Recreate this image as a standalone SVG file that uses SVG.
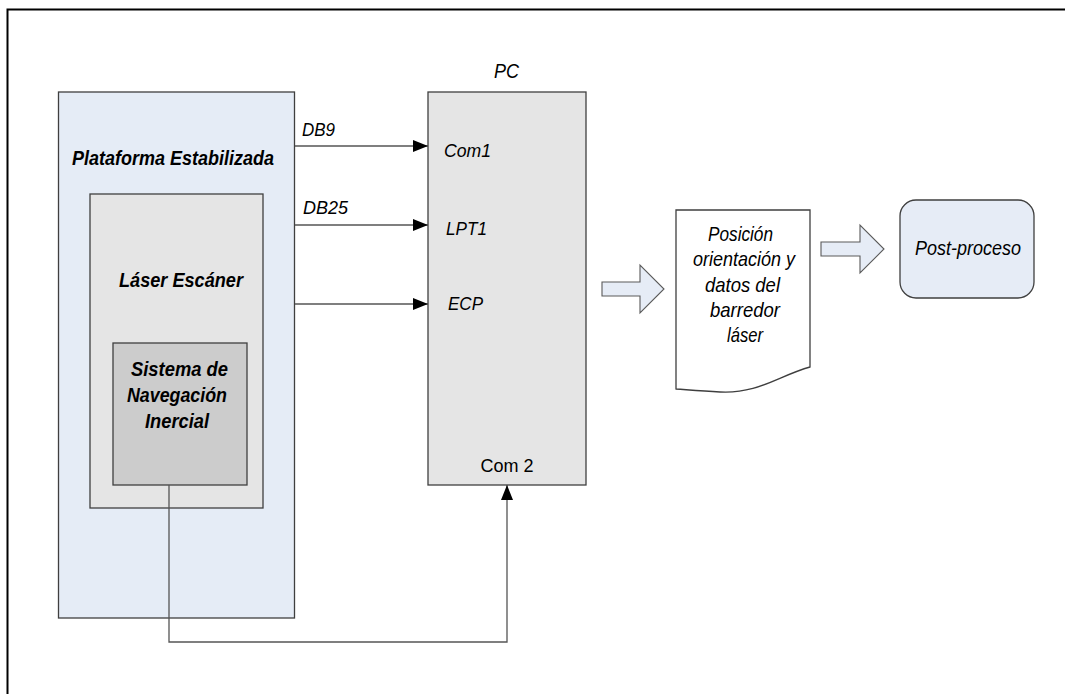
<svg xmlns="http://www.w3.org/2000/svg" width="1065" height="694" viewBox="0 0 1065 694">
  <style>
    .box { stroke: #3f3f3f; stroke-width: 1.3; }
    .lbl { font-family: "Liberation Sans", Arial, sans-serif; font-size: 21px; font-style: italic; fill: #000; }
    .bold { font-weight: bold; }
    .port { font-family: "Liberation Sans", Arial, sans-serif; font-size: 19px; font-style: italic; fill: #000; }
    .plain { font-family: "Liberation Sans", Arial, sans-serif; font-size: 18px; fill: #000; }
    .wire { fill: none; stroke: #555; stroke-width: 1.3; }
    .fat { fill: #e6ecf6; stroke: #5a5a5a; stroke-width: 1.1; }
  </style>
  <defs>
    <marker id="tip" markerWidth="15" markerHeight="12" refX="15" refY="6" orient="auto" markerUnits="userSpaceOnUse">
      <path d="M0,0 L15,6 L0,12 Z" fill="#000"/>
    </marker>
  </defs>

  <rect width="1065" height="694" fill="#fff"/>
  <!-- page frame -->
  <path d="M7.5,694 V9.5 H1065" fill="none" stroke="#000" stroke-width="2"/>

  <g id="plataforma">
    <rect class="box" x="58.5" y="92" width="236" height="526" fill="#e5ecf6"/>
    <text class="lbl bold" x="72" y="165" textLength="202" lengthAdjust="spacingAndGlyphs">Plataforma Estabilizada</text>
  </g>

  <g id="laser">
    <rect class="box" x="90" y="194" width="173" height="314" fill="#e5e5e5"/>
    <text class="lbl bold" x="119" y="287" textLength="124" lengthAdjust="spacingAndGlyphs">Láser Escáner</text>
  </g>

  <g id="ins">
    <rect class="box" x="113" y="343" width="134" height="142" fill="#cccccc"/>
    <text class="lbl bold" x="131" y="376" textLength="97" lengthAdjust="spacingAndGlyphs">Sistema de</text>
    <text class="lbl bold" x="127" y="402" textLength="100" lengthAdjust="spacingAndGlyphs">Navegación</text>
    <text class="lbl bold" x="145" y="428" textLength="64" lengthAdjust="spacingAndGlyphs">Inercial</text>
  </g>

  <g id="pc">
    <text class="lbl" x="494" y="78" textLength="25" lengthAdjust="spacingAndGlyphs">PC</text>
    <rect class="box" x="428" y="92" width="158" height="393" fill="#e5e5e5"/>
    <text class="port" x="444" y="157" textLength="47" lengthAdjust="spacingAndGlyphs">Com1</text>
    <text class="port" x="446" y="235" textLength="41" lengthAdjust="spacingAndGlyphs">LPT1</text>
    <text class="port" x="448" y="310" textLength="35" lengthAdjust="spacingAndGlyphs">ECP</text>
    <text class="plain" x="507" y="472" text-anchor="middle">Com 2</text>
  </g>

  <g id="documento">
    <path class="box" d="M676,210 H810 V367 C778,376 758,394 720,392 C702,391 690,390 676,389 Z" fill="#fff"/>
    <text class="lbl" x="708" y="241" textLength="65" lengthAdjust="spacingAndGlyphs">Posición</text>
    <text class="lbl" x="693" y="266" textLength="102" lengthAdjust="spacingAndGlyphs">orientación y</text>
    <text class="lbl" x="705" y="292" textLength="75" lengthAdjust="spacingAndGlyphs">datos del</text>
    <text class="lbl" x="710" y="317" textLength="70" lengthAdjust="spacingAndGlyphs">barredor</text>
    <text class="lbl" x="727" y="342" textLength="36" lengthAdjust="spacingAndGlyphs">láser</text>
  </g>

  <g id="postproceso">
    <rect class="box" x="900" y="200" width="134" height="98" rx="16" fill="#e6ecf6"/>
    <text class="lbl" x="915" y="255" textLength="106" lengthAdjust="spacingAndGlyphs">Post-proceso</text>
  </g>

  <g id="connectors">
    <text class="port" x="302" y="136" textLength="33" lengthAdjust="spacingAndGlyphs">DB9</text>
    <text class="port" x="303" y="214" textLength="45" lengthAdjust="spacingAndGlyphs">DB25</text>
    <line class="wire" x1="295" y1="146" x2="428" y2="146" marker-end="url(#tip)"/>
    <line class="wire" x1="295" y1="225" x2="428" y2="225" marker-end="url(#tip)"/>
    <line class="wire" x1="295" y1="304" x2="428" y2="304" marker-end="url(#tip)"/>
    <path class="wire" d="M169,485 V642 H507 V485" marker-end="url(#tip)"/>
    <!-- block arrows between the PC, the data file and post-processing -->
    <path class="fat" d="M602,282 H640 V265 L664,289 L640,313 V296 H602 Z"/>
    <path class="fat" d="M821,242 H860 V225 L884,249 L860,273 V256 H821 Z"/>
  </g>
</svg>
